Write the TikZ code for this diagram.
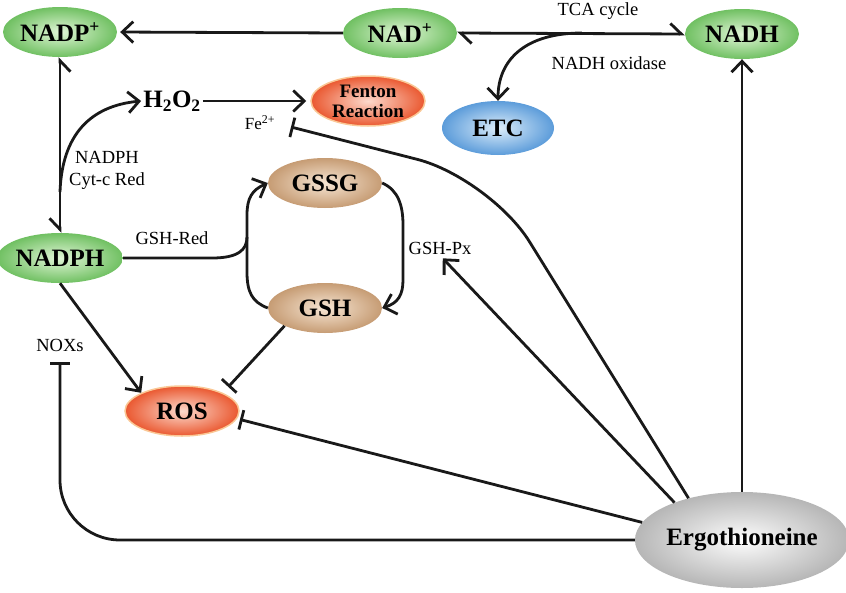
\documentclass[tikz,border=0pt]{standalone}
\usepackage{fontspec}
\setmainfont{Liberation Serif}
\usetikzlibrary{arrows.meta,shapes.geometric,calc}
\definecolor{gIn}{RGB}{225,246,215}
\definecolor{gOut}{RGB}{112,192,98}
\definecolor{oIn}{RGB}{252,218,205}
\definecolor{oOut}{RGB}{234,88,48}
\definecolor{oRim}{RGB}{250,200,150}
\definecolor{bIn}{RGB}{220,237,250}
\definecolor{bOut}{RGB}{92,156,218}
\definecolor{tIn}{RGB}{247,230,212}
\definecolor{tOut}{RGB}{198,156,116}
\definecolor{eIn}{RGB}{253,253,253}
\definecolor{eOut}{RGB}{182,182,182}
\tikzset{
  blob/.style={ellipse, minimum width=114pt, minimum height=50pt, inner sep=0pt,
    font=\fontsize{25}{27}\selectfont\bfseries},
  greenblob/.style={blob, inner color=gIn, outer color=gOut},
  orangeblob/.style={blob, inner color=oIn, outer color=oOut, draw=oRim, line width=1.5pt},
  blueblob/.style={blob, inner color=bIn, outer color=bOut},
  tanblob/.style={blob, inner color=tIn, outer color=tOut},
  greyblob/.style={blob, inner color=eIn, outer color=eOut, minimum width=200pt, minimum height=96pt},
  lbl/.style={font=\fontsize{18.5}{22}\selectfont, inner sep=1pt, align=center},
  conn/.style={line width=2.8pt, draw=black!90},
  arr/.style={conn, -{Straight Barb[length=11pt,width=21pt,line width=2.8pt]}},
  inh/.style={conn, -{Bar[width=20pt,line width=2.8pt]}},
  harp/.style={conn, {Straight Barb[harpoon,length=11pt,width=21pt,line width=2.8pt]}-{Straight Barb[harpoon,length=11pt,width=21pt,line width=2.8pt]}},
  harpswap/.style={conn, {Straight Barb[harpoon,swap,length=11pt,width=21pt,line width=2.8pt]}-{Straight Barb[harpoon,swap,length=11pt,width=21pt,line width=2.8pt]}},
}
\begin{document}
\begin{tikzpicture}[x=1pt,y=-1pt]
\useasboundingbox (0,0) rectangle (846,592);
% nodes
\node[greenblob] (nadpp) at (60,32) {NADP\textsuperscript{+}};
\node[greenblob] (nad) at (400,33) {NAD\textsuperscript{+}};
\node[greenblob] (nadh) at (742,34) {NADH};
\node[greenblob] (nadph) at (60,258) {NADPH};
\node[font=\fontsize{25}{27}\selectfont\bfseries, inner sep=2pt] (h2o2) at (172,101) {H\textsubscript{2}O\textsubscript{2}};
\node[orangeblob, font=\fontsize{19}{20}\selectfont\bfseries, align=center] (fenton) at (368,101) {Fenton\\Reaction};
\node[blueblob, minimum width=112pt, minimum height=54pt] (etc) at (498,128) {ETC};
\node[tanblob] (gssg) at (325,183) {GSSG};
\node[tanblob] (gsh) at (325,308) {GSH};
\node[orangeblob] (ros) at (182,411) {ROS};
\node[greyblob] (ergo) at (742,540) {Ergothioneine};
% labels
\node[lbl] (tca) at (598,11) {TCA cycle};
\node[lbl] (nadhox) at (609,63) {NADH oxidase};
\node[lbl, font=\fontsize{17}{20}\selectfont] (fe) at (260,123) {Fe\textsuperscript{2+}};
\node[lbl] (cytc) at (107,170) {NADPH\\Cyt-c Red};
\node[lbl] (gshred) at (172,238) {GSH-Red};
\node[lbl] (gshpx) at (440,248) {GSH-Px};
\node[lbl] (noxs) at (60,345) {NOXs};
% helper coordinates
\coordinate (tcasplit) at (582,33);
\coordinate (hsplit) at (60,192);
\coordinate (gj) at (247,237);
\coordinate (febar) at (291,127);
\coordinate (febend) at (490,178);
% connectors
\draw[arr, shorten >=3pt] (nad.west) -- (nadpp.east);
\draw[harp] (nadh.west) -- (nad.east);
\draw[arr] (tcasplit) .. controls (525,33) and (498,60) .. (etc.north);
\draw[harpswap] (nadph.north) -- (nadpp.south);
\draw[arr] (hsplit) .. controls (62,135) and (90,106) .. (h2o2.west);
\draw[arr, shorten >=4pt] (h2o2.east) -- (fenton.west);
\draw[arr] (nadph.east) -- (212,258) .. controls (238,258) and (247,250) .. (gj) -- (247,215) .. controls (247,198) and (252,190) .. (gssg.west);
\draw[conn] (gsh.west) .. controls (252,302) and (247,292) .. (247,272) -- (gj);
\draw[arr] (gssg.east) .. controls (398,190) and (403,205) .. (403,225) -- (403,280) .. controls (403,295) and (398,303) .. (gsh.east);
\draw[inh, shorten >=8pt] (gsh.south west) -- (ros.north east);
\draw[arr] (nadph.south) -- (ros.north west);
\draw[inh, shorten >=3pt] (ergo.170) -- (ros.-8);
\draw[arr, shorten >=4pt] (ergo.151) -- (gshpx.south);
\draw[inh, rounded corners=75pt] (ergo.142) -- (febend) -- (febar);
\draw[arr] (ergo.north) -- (nadh.south);
\draw[inh, rounded corners=60pt, shorten >=10pt] (ergo.west) -| (noxs.south);
\end{tikzpicture}
\end{document}
